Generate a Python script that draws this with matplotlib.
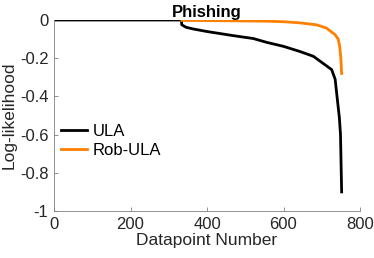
import matplotlib.pyplot as plt

plt.rcParams['font.family'] = ['Liberation Sans', 'DejaVu Sans']

# values
ula_x = [0, 333, 334, 345, 364, 399, 469, 521, 556, 600, 643, 678, 709, 726, 735, 741, 746, 749, 750, 752]
ula_y = [0, 0, -0.025, -0.038, -0.047, -0.06, -0.082, -0.097, -0.117, -0.138, -0.165, -0.19, -0.235, -0.26, -0.31, -0.42, -0.51, -0.6, -0.7, -0.9]
rob_x = [334, 450, 550, 600, 643, 686, 712, 735, 743, 747, 750, 752]
rob_y = [-0.002, -0.004, -0.006, -0.009, -0.015, -0.025, -0.042, -0.077, -0.1, -0.14, -0.2, -0.28]

fig = plt.figure(figsize=(3.74, 2.58), dpi=100)
ax = fig.add_axes([54/374, 1 - 211/258, 306/374, 191/258])

ax.plot(ula_x, ula_y, color='black', lw=2, label='ULA')
ax.plot(rob_x, rob_y, color='#FF8000', lw=2, label='Rob-ULA')

ax.set_xlim(0, 800)
ax.set_ylim(-1, 0)
ax.set_xticks([0, 200, 400, 600, 800])
ax.set_yticks([-1, -0.8, -0.6, -0.4, -0.2, 0])
ax.set_yticklabels(['-1', '-0.8', '-0.6', '-0.4', '-0.2', '0'])

for s in ['top', 'right']:
    ax.spines[s].set_visible(False)
for s in ['left', 'bottom']:
    ax.spines[s].set_color('#808080')
    ax.spines[s].set_linewidth(0.6)
ax.tick_params(direction='in', length=3, width=0.6, color='#808080',
               labelsize=12, labelcolor='#262626', pad=4)

ax.set_xlabel('Datapoint Number', fontsize=12.5, color='#262626', labelpad=1)
ax.set_ylabel('Log-likelihood', fontsize=12.5, color='#262626', labelpad=2)
ax.set_title('Phishing', fontsize=12, fontweight='bold', pad=1)

ax.legend(loc='center left', bbox_to_anchor=(0.0, 0.366), frameon=False,
          fontsize=12, handlelength=1.6, handletextpad=0.3, labelspacing=0.25,
          borderaxespad=0)

fig.savefig('out.png', dpi=100)
